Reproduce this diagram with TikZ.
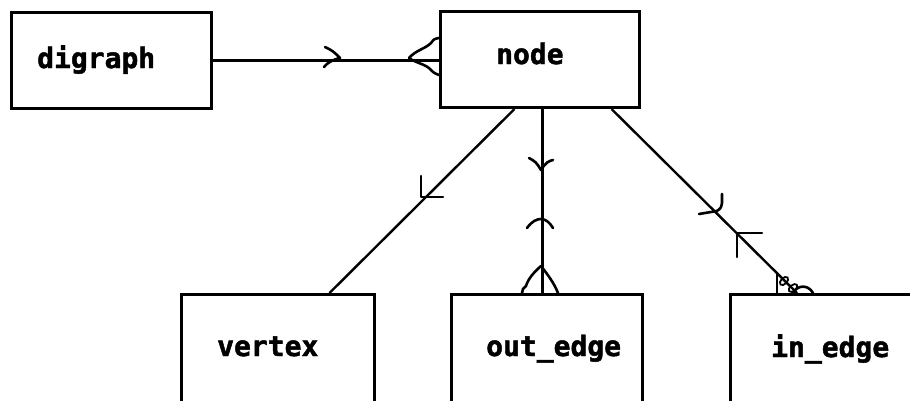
\documentclass[tikz,border=0pt]{standalone}
\usepackage{fontspec}
\newfontfamily\erfont{DejaVu Sans Mono Bold}[FakeBold=1.6]
\begin{document}
\begin{tikzpicture}[x=1pt,y=-1pt,
  box/.style={draw, line width=3pt, inner sep=0pt, anchor=north west},
  lbl/.style={inner sep=0pt, anchor=base west, font=\erfont\fontsize{28}{30}\selectfont},
  conn/.style={line width=2.4pt},
  tickmark/.style={line width=2.6pt, line cap=round, line join=round}]
\useasboundingbox (0,0) rectangle (910,400);
\clip (0,0) rectangle (910,400);
% boxes
\node[box, minimum width=200pt, minimum height=96pt] (digraph) at (10,11) {};
\node[box, minimum width=199pt, minimum height=96pt] (node) at (439,10) {};
\node[box, minimum width=193pt, minimum height=150pt] (vertex) at (180,293) {};
\node[box, minimum width=191pt, minimum height=150pt] (outedge) at (450,293) {};
\node[box, minimum width=250pt, minimum height=150pt] (inedge) at (729,293) {};
% labels
\node[lbl] (tdigraph) at (37,68) {digraph};
\node[lbl] (tnode) at (496,64) {node};
\node[lbl] (tvertex) at (217,356) {vertex};
\node[lbl] (toutedge) at (486,356) {out\_edge};
\node[lbl] (tinedge) at (771,357) {in\_edge};
% connectors
\draw[conn] (digraph.east) -- (digraph.east -| node.west);
\coordinate (v1) at ([xshift=-25.5pt]node.south);
\coordinate (v2) at ([xshift=51.5pt]vertex.north);
\draw[conn] (v1) -- (v2);
\coordinate (o1) at ([xshift=2.5pt]node.south);
\draw[conn] (o1) -- (o1 |- outedge.north);
\coordinate (i1) at ([xshift=71.5pt]node.south);
\coordinate (i2) at ([xshift=68pt]inedge.north west);
\draw[conn] (i1) -- (i2);
% marks on digraph--node
\draw[tickmark] (325,47) .. controls (333,51) .. (340,58) .. controls (332,60) and (327,63) .. (324,67);
\draw[tickmark] (409,58) .. controls (416,50) and (425,49) .. (431,43) .. controls (434,39) .. (439,38);
\draw[tickmark] (409,58) .. controls (416,63) and (425,64) .. (430,69) .. controls (434,73) .. (439,75);
% mark on node--vertex
\draw[tickmark] (421,176) -- (421,197) -- (443,197);
% marks on node--out_edge
\draw[tickmark] (529,158) .. controls (536,162) .. (541,170) .. controls (546,162) and (549,161) .. (553,160);
\draw[tickmark] (527,228) .. controls (532,221) and (537,219) .. (541,219) .. controls (546,219) and (550,223) .. (553,228);
\draw[tickmark] (541,266) .. controls (534,272) and (528,279) .. (526,286) -- (523,289) -- (522,293);
\draw[tickmark] (541,266) .. controls (548,275) and (554,283) .. (558,293);
% marks on node--in_edge
\draw[tickmark] (722,194) -- (722,203) .. controls (721,208) .. (717,211);
\draw[tickmark] (699,214) -- (705,213) .. controls (711,212) .. (717,211);
\draw[tickmark] (762,233) -- (737,233) -- (737,257);
\draw[tickmark] (777,274) -- (777,293);
\draw[line width=1.8pt, rotate around={45:(784,281)}] (784,281) ellipse (5pt and 3pt);
\draw[line width=1.8pt, rotate around={40:(793,288)}] (793,288) ellipse (5pt and 3pt);
\draw[tickmark] (793,293) .. controls (797,285) and (808,284) .. (813,293);
\end{tikzpicture}
\end{document}
